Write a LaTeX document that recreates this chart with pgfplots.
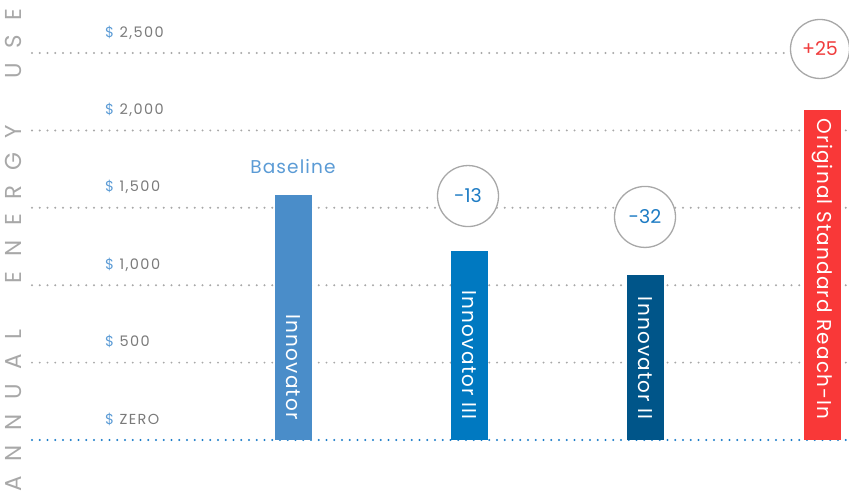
\documentclass[border=0pt]{standalone}
\usepackage{pgfplots}
\pgfplotsset{compat=1.18}
\usepackage{fontspec}
\setmainfont{Poppins}
\newfontfamily\spaced[LetterSpace=64,WordSpace=2.2]{Poppins}
\newfontfamily\tickfont[LetterSpace=10]{Poppins}
\newfontfamily\lblfont[LetterSpace=6]{Poppins}

\definecolor{barA}{HTML}{4A8DC9}
\definecolor{barB}{HTML}{0079C1}
\definecolor{barC}{HTML}{005589}
\definecolor{barD}{HTML}{F93838}
\definecolor{dollarblue}{HTML}{5B9BD5}
\definecolor{ticktext}{HTML}{7A7A7A}
\definecolor{gridgray}{HTML}{A8A8A8}
\definecolor{zeroblue}{HTML}{1A7CC8}
\definecolor{numblue}{HTML}{1E7CC4}
\definecolor{numred}{HTML}{F03C3C}

\begin{document}
\begin{tikzpicture}
\begin{axis}[
    width=849pt, height=502pt,
    scale only axis,
    xmin=0, xmax=849,
    ymin=-400.5, ymax=2842.4,
    axis line style={draw=none},
    tick style={draw=none},
    xtick=\empty,
    ytick={0,500,1000,1500,2000,2500},
    yticklabels={
        {\textcolor{dollarblue}{\$} ZERO},
        {\textcolor{dollarblue}{\$} 500},
        {\textcolor{dollarblue}{\$} 1,000},
        {\textcolor{dollarblue}{\$} 1,500},
        {\textcolor{dollarblue}{\$} 2,000},
        {\textcolor{dollarblue}{\$} 2,500}},
    yticklabel style={anchor=base west, xshift=105pt, yshift=16pt,
        font=\tickfont\fontsize{14.5}{14.5}\selectfont, text=ticktext, inner sep=0pt},
    clip=false,
    ybar, bar width=37, bar shift=0pt,
]
% gridlines
\foreach \v in {500,1000,1500,2000,2500}{
    \edef\tmp{\noexpand\draw[gridgray, line width=2.2pt, line cap=round,
        dash pattern=on 0pt off 7.75pt] (axis cs:32,\v) -- (axis cs:849,\v);}
    \tmp
}
\draw[zeroblue, line width=2.4pt, line cap=round,
    dash pattern=on 0pt off 7.75pt] (axis cs:32,0) -- (axis cs:849,0);

\addplot[fill=barA, draw=none] coordinates {(293.5,1583)};
\addplot[fill=barB, draw=none] coordinates {(469.5,1221)};
\addplot[fill=barC, draw=none] coordinates {(645.5,1066)};
\addplot[fill=barD, draw=none] coordinates {(822.5,2132)};

% bar labels
\node[rotate=-90, anchor=east, text=white, font=\lblfont\fontsize{20}{20}\selectfont, inner sep=0pt]
    at (axis cs:293.5,130) {Innovator};
\node[rotate=-90, anchor=east, text=white, font=\lblfont\fontsize{20}{20}\selectfont, inner sep=0pt]
    at (axis cs:469.5,130) {Innovator III};
\node[rotate=-90, anchor=east, text=white, font=\lblfont\fontsize{20}{20}\selectfont, inner sep=0pt]
    at (axis cs:645.5,130) {Innovator II};
\node[rotate=-90, anchor=east, text=white, font=\lblfont\fontsize{20}{20}\selectfont, inner sep=0pt]
    at (axis cs:822.5,130) {Original Standard Reach-In};

% annotations
\node[text=dollarblue, font=\lblfont\fontsize{18.5}{18.5}\selectfont] at (axis cs:293,1764) {Baseline};
\node[circle, draw=gridgray, fill=white, line width=1.3pt, minimum size=61pt, inner sep=0pt,
    text=numblue, font=\fontsize{19}{19}\selectfont] at (axis cs:468,1576) {-13};
\node[circle, draw=gridgray, fill=white, line width=1.3pt, minimum size=61pt, inner sep=0pt,
    text=numblue, font=\fontsize{19}{19}\selectfont] at (axis cs:645,1441) {-32};
\node[circle, draw=gridgray, fill=white, line width=1.3pt, minimum size=59pt, inner sep=0pt,
    text=numred, font=\fontsize{19}{19}\selectfont] at (axis cs:820,2526) {+25};

% vertical title
\node[rotate=90, text=gridgray, font=\spaced\fontsize{23}{23}\selectfont, inner sep=0pt]
    at (axis cs:13,1227) {ANNUAL ENERGY USE};
\end{axis}
\pgfresetboundingbox
\path[use as bounding box] (current axis.south west) rectangle (current axis.north east);
\end{tikzpicture}
\end{document}
